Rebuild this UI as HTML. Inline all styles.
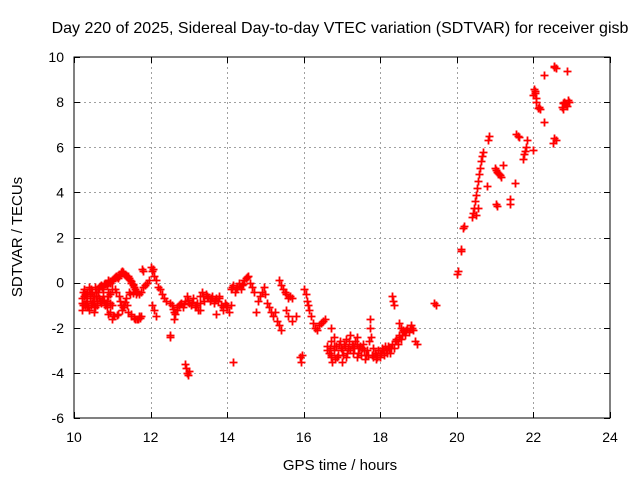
<!DOCTYPE html>
<html><head><meta charset="utf-8"><style>
html,body{margin:0;padding:0;background:#fff;}
svg{display:block;font-family:"Liberation Sans",sans-serif;}
</style></head><body>
<svg id="chart" width="640" height="480" viewBox="0 0 640 480" xmlns="http://www.w3.org/2000/svg">
<rect width="640" height="480" fill="#fff"/>
<text x="340" y="33" text-anchor="middle" font-size="16">Day 220 of 2025, Sidereal Day-to-day VTEC variation (SDTVAR) for receiver gisb</text>
<g id="grid"></g>
<g id="ticks"></g>
<g id="points"></g>
<rect x="74" y="57" width="536" height="361" fill="none" stroke="#000" stroke-width="1"/>
<text x="340" y="470" text-anchor="middle" font-size="15">GPS time / hours</text>
<text transform="translate(22,237) rotate(-90)" text-anchor="middle" font-size="15">SDTVAR / TECUs</text>
</svg>
<script>
const xTicks = [10,12,14,16,18,20,22,24];
const yTicks = [-6,-4,-2,0,2,4,6,8,10];
const hours = [10.2,10.22,10.25,10.27,10.3,10.32,10.35,10.38,10.4,10.42,10.45,10.48,10.5,10.52,10.55,10.58,10.6,10.62,
10.65,10.7,10.75,10.8,10.85,10.9,10.95,11.0,11.05,11.1,11.15,11.2,11.25,11.3,11.35,11.4,11.45,11.5,11.55,11.6,11.65,11.7,11.75,11.8,11.85,11.9,11.95,
10.65,10.7,10.75,10.8,10.85,10.9,10.95,11.0,11.05,11.1,11.15,11.2,11.25,11.3,11.35,11.4,11.45,11.5,11.55,11.6,11.65,11.7,11.75,10.85,10.9,11.0,10.95,11.77,11.8,
10.21,10.24,10.28,10.31,10.34,10.37,10.41,10.44,10.47,10.51,10.54,10.57,10.61,10.23,10.33,10.43,10.53,10.63,10.68,10.73,10.78,10.83,10.88,10.93,10.98,11.03,11.08,11.13,11.18,11.23,11.28,11.33,11.38,11.43,11.48,11.53,11.58,11.63,
10.68,10.73,10.78,10.83,10.88,10.93,10.98,11.03,11.08,11.13,11.18,11.22,11.28,11.33,11.38,11.43,11.48,11.53,11.58,11.63,11.68,11.73,
12.0,12.03,12.06,12.1,12.15,12.2,12.25,12.3,12.35,12.4,12.05,12.1,12.15,12.5,12.52,
12.5,12.55,12.6,12.62,12.65,12.7,12.75,12.8,12.85,12.9,12.95,13.0,13.05,13.1,13.15,13.2,13.25,13.3,13.35,13.4,13.45,13.5,
12.58,12.68,12.78,12.88,12.98,13.08,13.18,13.28,13.38,13.48,
12.9,12.92,12.95,12.98,13.0,
13.55,13.6,13.65,13.7,13.75,13.8,13.85,13.9,13.95,14.0,14.05,14.1,13.3,13.7,
13.58,13.68,13.78,13.88,13.98,
14.15,
14.1,14.15,14.2,14.25,14.3,14.35,14.4,14.45,14.5,14.55,14.6,14.65,14.7,
14.12,14.22,14.32,14.42,14.52,
14.8,14.85,14.9,14.95,15.0,15.05,14.75,
15.1,15.15,15.2,15.25,15.3,15.35,15.4,
15.35,15.4,15.45,15.5,15.55,15.6,15.65,15.7,15.55,15.6,15.7,15.8,
15.9,15.93,15.95,
16.0,16.05,16.08,16.1,16.15,16.2,16.25,16.3,16.35,16.4,16.45,16.5,16.55,
16.6,16.65,16.7,16.72,16.75,16.8,16.85,16.9,16.95,17.0,17.05,17.1,17.1,17.15,17.2,17.25,17.3,17.35,17.4,17.45,17.5,17.55,17.6,17.65,17.7,17.72,17.73,17.75,17.8,17.85,17.9,17.95,18.0,18.05,18.1,18.15,18.2,18.25,18.3,18.35,18.4,18.45,18.5,18.55,18.6,18.65,18.7,18.75,18.8,18.85,18.5,18.55,16.7,16.8,17.0,17.4,18.3,18.32,18.35,18.9,18.95,19.4,19.45,
16.62,16.68,16.78,16.88,16.98,17.08,17.18,17.28,17.38,17.48,17.58,17.68,17.78,17.88,17.98,18.08,18.18,18.28,18.38,18.48,18.58,18.68,18.78,
16.72,16.82,16.92,17.02,17.12,17.22,17.32,17.42,17.52,17.62,17.82,17.92,18.02,18.12,18.22,18.42,18.62,18.82,
20.0,20.02,20.1,20.12,20.15,20.18,20.4,20.42,20.45,20.48,20.5,20.52,20.55,20.58,20.6,20.63,20.66,20.68,20.5,20.55,20.82,20.84,20.8,21.0,21.05,21.1,21.15,21.2,21.03,21.06,21.38,21.4,21.52,21.55,21.6,21.72,21.75,21.8,21.82,22.0,22.0,22.02,22.05,22.08,22.15,22.17,22.27,22.27,22.52,22.55,22.55,22.6,22.75,22.8,22.85,22.9,22.87,22.78,
21.02,21.08,21.12,21.62,21.78,22.03,22.06,22.12,22.53,22.58,22.82,22.88,22.92,22.76];
const sdtvar = [-0.9,-1.2,-0.6,-0.3,-1.0,-0.5,-0.8,-1.2,-0.2,-0.6,-1.0,-0.4,-0.8,-1.3,-0.2,-0.6,-1.0,-0.4,
-0.2,-0.1,-0.3,0,-0.1,0.1,0,0.1,0.2,0.3,0.2,0.4,0.5,0.4,0.3,0.3,0.1,0,-0.1,-0.3,-0.4,-0.5,-0.4,-0.2,-0.1,0,0.1,
-0.7,-0.9,-0.6,-1.0,-0.8,-0.4,-1.3,-0.3,-1.5,-0.4,-1.4,-0.8,-1.2,-1.0,-0.7,-1.3,-0.5,-1.5,-0.4,-1.6,-1.6,-1.5,-1.5,-1.1,-1.4,-1.6,-0.5,0.6,0.5,
-0.7,-1.0,-0.5,-0.9,-0.4,-1.1,-0.7,-0.3,-0.9,-0.6,-1.1,-0.4,-0.8,-0.4,-1.1,-0.5,-1.0,-0.3,-0.15,-0.2,-0.05,0,0,0.05,0.05,0.15,0.25,0.25,0.3,0.45,0.45,0.35,0.3,0.2,0.05,-0.05,-0.2,-0.35,
-0.8,-0.75,-0.8,-0.9,-0.6,-0.9,-1.0,-1.5,-0.3,-1.45,-0.6,-1.0,-1.1,-0.85,-1.0,-0.4,-1.4,-0.45,-1.55,-0.5,-1.6,-1.55,
0.7,0.5,0.6,0.3,0.1,-0.2,-0.3,-0.5,-0.7,-0.8,-1.0,-1.2,-1.5,-2.3,-2.4,
-0.9,-1.0,-1.3,-1.6,-1.4,-1.2,-1.0,-0.9,-1.1,-0.8,-0.6,-0.9,-1.0,-0.7,-1.1,-0.9,-1.2,-0.6,-0.4,-0.8,-0.5,-0.7,
-1.15,-1.1,-0.95,-0.95,-0.75,-0.85,-1.0,-0.9,-0.6,-0.6,
-3.6,-3.8,-4.0,-4.1,-3.9,
-0.8,-0.6,-0.9,-0.7,-0.8,-0.6,-1.0,-1.2,-0.9,-1.1,-1.3,-1.0,-1.2,-1.4,
-0.7,-0.75,-0.7,-1.1,-1.0,
-3.5,
-0.3,-0.1,-0.4,-0.2,0,-0.3,-0.1,0.1,0.2,0.3,0,-0.2,-0.4,
-0.2,-0.3,-0.15,-0.05,0.25,
-0.8,-0.6,-0.4,-0.2,-0.5,-0.9,-1.3,
-1.1,-1.3,-1.5,-1.3,-1.7,-1.9,-2.1,
0.1,-0.1,-0.3,-0.4,-0.5,-0.7,-0.6,-0.7,-1.2,-1.5,-1.7,-1.5,
-3.3,-3.5,-3.2,
-0.3,-0.5,-0.8,-1.0,-1.2,-1.5,-1.8,-2.0,-2.1,-1.9,-1.8,-1.7,-1.6,
-2.8,-3.1,-3.3,-2.6,-3.5,-3.0,-2.8,-3.2,-2.6,-3.0,-2.7,-2.5,-3.3,-2.9,-2.3,-2.7,-3.1,-2.6,-2.4,-2.9,-3.2,-2.7,-3.4,-3.0,-2.6,-1.6,-2.0,-2.4,-3.3,-3.1,-3.4,-3.0,-3.3,-2.9,-3.2,-3.0,-2.8,-3.1,-2.7,-2.9,-2.5,-2.7,-2.3,-2.5,-2.1,-2.3,-2.0,-2.2,-1.9,-2.1,-1.8,-2.0,-2.0,-2.4,-3.5,-3.3,-0.6,-0.8,-1.0,-2.6,-2.7,-0.9,-1.0,
-3.0,-2.9,-2.8,-3.3,-2.9,-2.8,-2.6,-2.8,-2.7,-2.8,-3.0,-3.2,-3.2,-3.2,-3.1,-3.0,-3.1,-2.9,-2.6,-2.4,-2.3,-2.1,-2.0,
-3.2,-3.4,-2.7,-3.2,-3.1,-3.0,-2.9,-3.1,-2.9,-3.2,-2.9,-3.3,-3.1,-2.8,-2.9,-2.6,-2.2,-2.0,
0.4,0.5,1.4,1.5,2.4,2.5,2.9,3.1,3.3,3.6,3.9,4.2,4.5,4.8,5.1,5.4,5.6,5.8,3.0,3.3,6.3,6.5,4.3,5.1,4.9,4.8,4.7,5.2,3.5,3.4,3.7,3.5,4.4,6.6,6.5,5.5,5.7,6.0,6.3,5.9,8.3,8.6,8.4,8.0,7.8,7.7,7.1,9.2,6.2,6.4,9.6,9.5,7.8,8.0,7.9,8.1,9.4,7.7,
5.0,4.85,4.75,6.45,5.85,8.5,8.2,7.75,9.55,6.3,7.95,7.85,8.0,7.95];

const NS='http://www.w3.org/2000/svg';
const X0=74,X1=610,Y0=418,Y1=57;
function xScale(v){return X0+(v-10)/(24-10)*(X1-X0);}
function yScale(v){return Y0-(v+6)/(10+6)*(Y0-Y1);}
const grid=document.getElementById('grid'),ticks=document.getElementById('ticks'),pts=document.getElementById('points');
function mk(tag,attrs,parent){const e=document.createElementNS(NS,tag);for(const k in attrs)e.setAttribute(k,attrs[k]);parent.appendChild(e);return e;}
xTicks.forEach(t=>{
  const x=Math.round(xScale(t))+0.5;
  if(t>10&&t<24){const g=mk('line',{x1:x,x2:x,y1:Y1,y2:Y0,stroke:'#a0a0a0','stroke-dasharray':'2,3'},grid);
  
  }
  const a=mk('line',{x1:x,x2:x,y1:Y0,y2:Y0-6,stroke:'#000'},ticks);
  
  
  const b=mk('line',{x1:x,x2:x,y1:Y1,y2:Y1+6,stroke:'#000'},ticks);
  
  
  const l=mk('text',{x:xScale(t),y:Y0+24,'text-anchor':'middle','font-size':'14'},ticks);
  l.textContent=t;
  
  
});
yTicks.forEach(t=>{
  const y=Math.round(yScale(t))+0.5;
  if(t>-6&&t<10){const g=mk('line',{x1:X0,x2:X1,y1:y,y2:y,stroke:'#a0a0a0','stroke-dasharray':'2,3'},grid);
  
  }
  const a=mk('line',{x1:X0,x2:X0+6,y1:y,y2:y,stroke:'#000'},ticks);
  
  
  const b=mk('line',{x1:X1,x2:X1-6,y1:y,y2:y,stroke:'#000'},ticks);
  
  
  const l=mk('text',{x:X0-10,y:yScale(t)+5,'text-anchor':'end','font-size':'14'},ticks);
  l.textContent=t;
  
  
});
for(let i=0;i<hours.length;i++){
  const x=Math.round(xScale(hours[i]))+0.5,y=Math.round(yScale(sdtvar[i]))+0.5;
  const p=mk('path',{d:`M${x-4} ${y}H${x+4}M${x} ${y-4}V${y+4}`,stroke:'#ff0000','stroke-width':'1.8',fill:'none'},pts);
  
  
}
</script>
</body></html>
